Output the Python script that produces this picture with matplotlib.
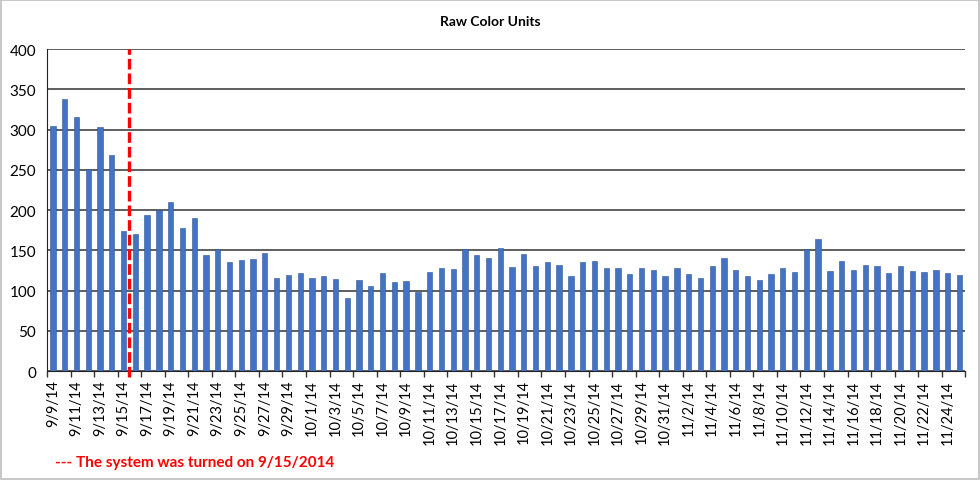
import datetime as dt
import matplotlib
matplotlib.use('Agg')
import matplotlib.pyplot as plt
import numpy as np

plt.rcParams['font.family'] = ['Lato', 'DejaVu Sans']

# daily readings 9/9/14 .. 11/25/14
start = dt.date(2014, 9, 9)
values = [304, 338, 316, 251, 303, 268, 174, 170, 194, 200, 210, 178, 190,
          144, 151, 136, 138, 139, 146, 116, 119, 122,
          115, 118, 114, 91, 113, 105, 122, 111, 112, 98, 123, 128, 127, 151,
          144, 140, 153, 129, 145, 131, 135, 132, 118, 136, 137, 128, 128,
          120, 128, 126, 118,
          128, 120, 115, 131, 141, 126, 118, 113, 120, 128, 123, 151, 164,
          124, 137, 126, 132, 131, 122, 130, 124, 123, 126, 122, 119]
dates = [start + dt.timedelta(days=i) for i in range(len(values))]
labels = ['%d/%d/%s' % (d.month, d.day, str(d.year)[2:]) for d in dates]
turn_on = dt.date(2014, 9, 15)
note = '--- The system was turned on 9/15/2014'

fig = plt.figure(figsize=(9.8, 4.81), dpi=100)
ax = fig.add_axes([0.048, 0.2266, 0.937, 0.6694])

x = np.arange(len(values))
ax.bar(x, values, width=0.45, color='#4472C4', edgecolor='#2F5597',
       linewidth=0.4, zorder=3)

ax.set_ylim(0, 400)
ax.set_yticks(range(0, 401, 50))
ax.set_xlim(-0.5, len(values) - 0.5)
ax.grid(axis='y', color='#333333', linewidth=1.1, zorder=0)
ax.tick_params(axis='y', length=0, labelsize=11, pad=8)

# labels on every other day, ticks at category edges
ax.set_xticks(x[::2])
ax.set_xticklabels(labels[::2], rotation=90, fontsize=10.5)
ax.tick_params(axis='x', which='major', length=0, pad=6)
ax.set_xticks(np.arange(-0.5, len(values), 2), minor=True)
ax.tick_params(axis='x', which='minor', length=4, color='#333333', width=1)

for s in ['top', 'right']:
    ax.spines[s].set_visible(False)
ax.spines['left'].set_color('#222222')
ax.spines['bottom'].set_color('#222222')

# system turned on: dashed line right after that day's bar
idx = (turn_on - start).days
ax.plot([idx + 0.5, idx + 0.5], [-8, 400], color='#FF0000', linewidth=2.4,
        linestyle=(0, (3.2, 1.2)), zorder=4, clip_on=False)

fig.text(0.5, 0.954, 'Raw Color Units', ha='center', va='center',
         fontsize=10, fontweight='bold')
fig.text(0.056, 0.037, note, ha='left', va='center', color='#FF0000',
         fontsize=11, fontweight='bold')

fig.patches.append(plt.Rectangle((0.001, 0.002), 0.998, 0.996, transform=fig.transFigure,
                                 fill=False, edgecolor='#BFBFBF', linewidth=1.2))

fig.savefig('out.png', dpi=100)
